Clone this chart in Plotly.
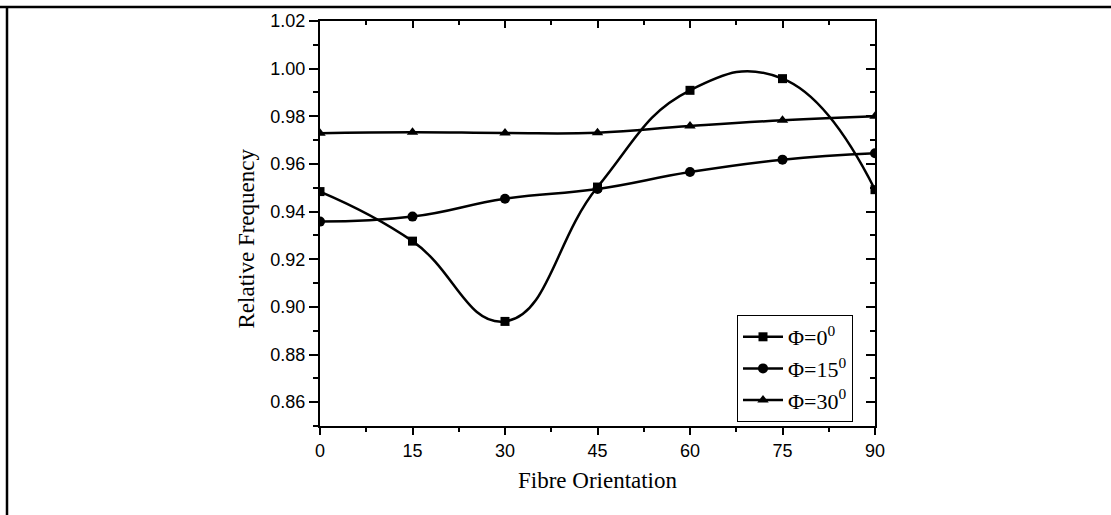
import plotly.graph_objects as go

# Data
fibre_orientation = [0, 15, 30, 45, 60, 75, 90]
phi_0 = [0.9484, 0.9276, 0.8939, 0.9503, 0.9909, 0.9958, 0.9492]
phi_15 = [0.9358, 0.9379, 0.9454, 0.9495, 0.9566, 0.9618, 0.9645]
phi_30 = [0.9729, 0.9733, 0.9730, 0.9731, 0.9759, 0.9783, 0.9800]
series_names = ["Φ=0<sup>0</sup>", "Φ=15<sup>0</sup>", "Φ=30<sup>0</sup>"]
x_ticks = [0, 15, 30, 45, 60, 75, 90]
y_ticks = [0.86, 0.88, 0.90, 0.92, 0.94, 0.96, 0.98, 1.00, 1.02]

W, H = 1111, 515
L, R, T, B = 320, 236, 21, 89
pw = W - L - R
ph = H - T - B

fig = go.Figure()
symbols = ["square", "circle", "triangle-up"]
sizes = [9, 10, 10]
for name, ys, sym, sz in zip(series_names, [phi_0, phi_15, phi_30], symbols, sizes):
    fig.add_trace(go.Scatter(
        x=fibre_orientation, y=ys, name=name, mode="lines+markers",
        line=dict(color="black", width=2.5, shape="spline", smoothing=1.3),
        marker=dict(symbol=sym, size=sz, color="black"),
    ))

# invisible trace to anchor mirrored axes
fig.add_trace(go.Scatter(x=[fibre_orientation[0]], y=[phi_30[0]], xaxis="x2", yaxis="y2",
                         mode="markers", marker=dict(opacity=0), showlegend=False, hoverinfo="skip"))

tickfont = dict(family="Liberation Sans", size=18, color="black")
titlefont = dict(family="Liberation Serif", size=23, color="black")

fig.update_layout(
    width=W, height=H,
    margin=dict(l=L, r=R, t=T, b=B),
    paper_bgcolor="white", plot_bgcolor="white",
    xaxis=dict(range=[0, 90], tickvals=x_ticks, ticks="outside", ticklen=7, tickwidth=1.5,
               tickcolor="black", showline=True, linewidth=2, linecolor="black",
               showgrid=False, zeroline=False, tickfont=tickfont,
               minor=dict(dtick=7.5, tick0=0, ticks="outside", ticklen=4, tickwidth=1.5, tickcolor="black"),
               title=dict(text="Fibre Orientation", font=titlefont, standoff=12)),
    yaxis=dict(range=[0.85, 1.02], tickvals=y_ticks, tickformat=".2f", ticks="outside", ticklen=9,
               tickwidth=1.5, tickcolor="black", showline=True, linewidth=2, linecolor="black",
               showgrid=False, zeroline=False, tickfont=tickfont,
               minor=dict(dtick=0.01, tick0=0.85, ticks="outside", ticklen=5, tickwidth=1.5, tickcolor="black")),
    xaxis2=dict(range=[0, 90], overlaying="x", side="top", anchor="y2", tickvals=x_ticks,
                ticks="inside", ticklen=7, tickwidth=1.5, tickcolor="black", showticklabels=False,
                showline=True, linewidth=2, linecolor="black", showgrid=False, zeroline=False,
                minor=dict(dtick=7.5, tick0=0, ticks="inside", ticklen=4, tickwidth=1.5, tickcolor="black")),
    yaxis2=dict(range=[0.85, 1.02], overlaying="y", side="right", anchor="x2", tickvals=y_ticks,
                ticks="inside", ticklen=9, tickwidth=1.5, tickcolor="black", showticklabels=False,
                showline=True, linewidth=2, linecolor="black", showgrid=False, zeroline=False,
                minor=dict(dtick=0.01, tick0=0.85, ticks="inside", ticklen=5, tickwidth=1.5, tickcolor="black")),
    legend=dict(x=(737 - L) / pw, y=(426 - 315) / ph, xanchor="left", yanchor="top",
                bordercolor="black", borderwidth=1, bgcolor="white",
                font=dict(family="Liberation Serif", size=22, color="black"),
                tracegroupgap=0, itemwidth=40),
    showlegend=True,
)

# y-axis title placed as in the reference (slightly below centre)
fig.add_annotation(text="Relative Frequency", xref="paper", yref="paper",
                   x=(246 - L) / pw, y=(426 - 238.5) / ph, xanchor="center", yanchor="middle",
                   textangle=-90, showarrow=False, font=titlefont)

# outer frame lines (top and left)
fig.add_shape(type="line", xref="paper", yref="paper",
              x0=-L / pw, x1=(W - L) / pw, y0=(426 - 7) / ph, y1=(426 - 7) / ph,
              line=dict(color="black", width=2.5))
fig.add_shape(type="line", xref="paper", yref="paper",
              x0=(7 - L) / pw, x1=(7 - L) / pw, y0=(426 - 7) / ph, y1=(426 - H) / ph,
              line=dict(color="black", width=2.5))

fig.write_html("out.html")
